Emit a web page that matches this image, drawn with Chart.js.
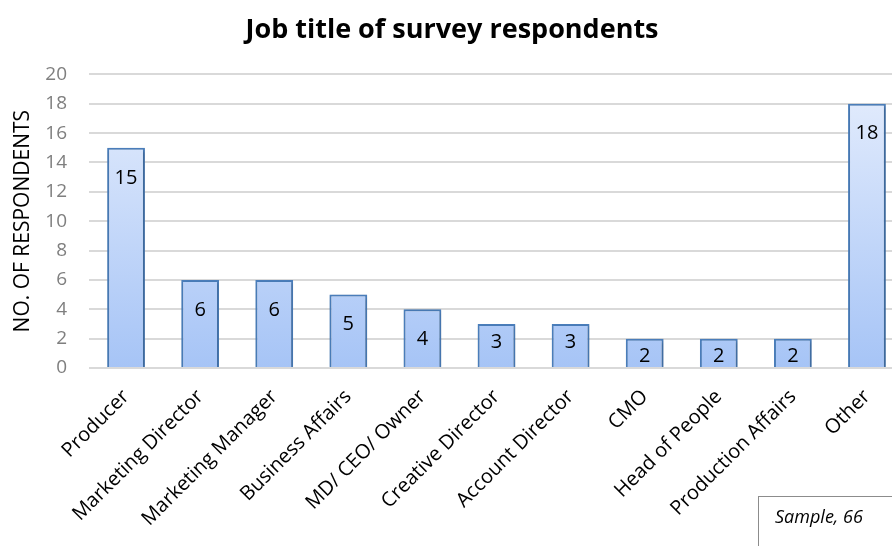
<!DOCTYPE html>
<html>
<head>
<meta charset="utf-8">
<script src="https://cdn.jsdelivr.net/npm/chart.js@4/dist/chart.umd.min.js"></script>
<style>
  html, body { margin: 0; padding: 0; background: #fff; overflow: hidden; }
  #wrap { position: relative; width: 904px; height: 546px; }
</style>
</head>
<body>
<div id="wrap"><canvas id="c"></canvas></div>
<script>
// Survey respondents by job title
const jobTitles = [
  'Producer', 'Marketing Director', 'Marketing Manager', 'Business Affairs',
  'MD/ CEO/ Owner', 'Creative Director', 'Account Director', 'CMO',
  'Head of People', 'Production Affairs', 'Other'
];
const respondents = [15, 6, 6, 5, 4, 3, 3, 2, 2, 2, 18];
const yTicks = [0, 2, 4, 6, 8, 10, 12, 14, 16, 18, 20];
const chartTitle = 'Job title of survey respondents';
const yAxisTitle = 'NO. OF RESPONDENTS';
const sampleNote = 'Sample, 66';

const FONT = "'Open Sans', 'Liberation Sans', sans-serif";

// Vertical light-to-mid blue fill for each bar
function barGradient(ctx) {
  const chart = ctx.chart;
  const area = chart.chartArea;
  if (!area) return '#c6d9fb';
  const el = ctx.element;
  const top = el && el.y !== undefined ? el.y : area.top;
  const bottom = el && el.base !== undefined ? el.base : area.bottom;
  const g = chart.ctx.createLinearGradient(0, top, 0, bottom);
  g.addColorStop(0, '#e6eefd');
  g.addColorStop(1, '#a6c4f6');
  return g;
}

// Soft drop shadow under the bars
const barShadow = {
  id: 'barShadow',
  beforeDatasetsDraw(chart) {
    const c = chart.ctx;
    c.save();
    c.shadowColor = 'rgba(0,0,0,0.28)';
    c.shadowBlur = 3;
    c.shadowOffsetX = 1;
    c.shadowOffsetY = 1;
  },
  afterDatasetsDraw(chart) {
    chart.ctx.restore();
  }
};

// Value labels placed inside the top of each bar
const valueLabels = {
  id: 'valueLabels',
  afterDatasetsDraw(chart) {
    const c = chart.ctx;
    const meta = chart.getDatasetMeta(0);
    c.save();
    c.font = "20px " + FONT;
    c.fillStyle = '#000';
    c.textAlign = 'center';
    c.textBaseline = 'middle';
    meta.data.forEach((bar, i) => {
      const h = bar.base - bar.y;
      const off = h >= 50 ? 30 : 18;
      c.fillText(String(respondents[i]), bar.x, bar.y + off);
    });
    c.restore();
  }
};

// Boxed sample-size note in the lower right corner
const sampleBox = {
  id: 'sampleBox',
  afterDraw(chart) {
    const c = chart.ctx;
    c.save();
    c.strokeStyle = '#8c8c8c';
    c.lineWidth = 1;
    c.strokeRect(758.5, 496.5, 160, 80);
    c.font = "italic 18px " + FONT;
    c.fillStyle = '#000';
    c.textAlign = 'left';
    c.textBaseline = 'middle';
    c.fillText(sampleNote, 775, 518);
    c.restore();
  }
};

new Chart(document.getElementById('c'), {
  type: 'bar',
  data: {
    labels: jobTitles,
    datasets: [{
      data: respondents,
      backgroundColor: barGradient,
      borderColor: '#4a7ebb',
      borderWidth: 2,
      categoryPercentage: 1,
      barPercentage: 0.51
    }]
  },
  plugins: [barShadow, valueLabels, sampleBox],
  options: {
    responsive: true,
    maintainAspectRatio: false,
    animation: false,
    layout: { padding: { left: 0, right: 0, top: 0, bottom: 0 } },
    plugins: {
      legend: { display: false },
      tooltip: { enabled: false },
      title: {
        display: true,
        text: chartTitle,
        color: '#000',
        font: { family: FONT, size: 27, weight: 'bold' },
        padding: { top: 14, bottom: 28 }
      }
    },
    scales: {
      x: {
        grid: { display: false },
        border: { display: false },
        ticks: {
          color: '#000',
          font: { family: FONT, size: 20 },
          maxRotation: 45,
          minRotation: 45,
          autoSkip: false,
          padding: 9
        },
        afterFit(scale) { scale.height = 178; }
      },
      y: {
        min: 0,
        max: 20,
        afterBuildTicks(scale) { scale.ticks = yTicks.map(v => ({ value: v })); },
        grid: { color: '#d9d9d9', lineWidth: 2, drawTicks: false },
        border: { display: false },
        ticks: {
          color: '#7f7f7f',
          font: { family: FONT, size: 19 },
          padding: 22
        },
        title: {
          display: true,
          text: yAxisTitle,
          color: '#000',
          font: { family: FONT, size: 21 },
          padding: { top: 10, bottom: 0 }
        },
        afterFit(scale) { scale.width = 89; }
      }
    }
  }
});
</script>
</body>
</html>
